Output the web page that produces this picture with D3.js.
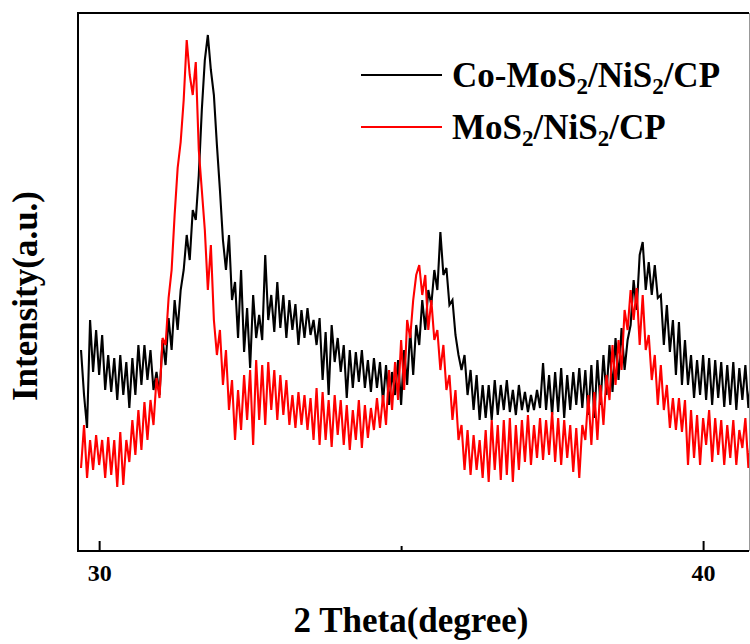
<!DOCTYPE html>
<html>
<head>
<meta charset="utf-8">
<script src="https://cdn.jsdelivr.net/npm/d3@7"></script>
<style>
  body { margin: 0; background: #fff; }
  text { font-family: "Liberation Serif", "Times New Roman", serif; font-weight: bold; }
</style>
</head>
<body>
<div id="chart-area"></div>
<script>
const width = 750;
const height = 644;

// 2-theta positions (degree)
const twoTheta = [
  29.70, 29.75, 29.80, 29.85, 29.90, 29.95, 30.00, 30.05, 30.10, 30.15,
  30.20, 30.25, 30.30, 30.35, 30.40, 30.45, 30.50, 30.55, 30.60, 30.65,
  30.70, 30.75, 30.80, 30.85, 30.90, 30.95, 31.00, 31.05, 31.10, 31.15,
  31.20, 31.25, 31.30, 31.35, 31.40, 31.45, 31.50, 31.55, 31.60, 31.65,
  31.70, 31.75, 31.80, 31.85, 31.90, 31.95, 32.00, 32.05, 32.10, 32.15,
  32.20, 32.25, 32.30, 32.35, 32.40, 32.45, 32.50, 32.55, 32.60, 32.65,
  32.70, 32.75, 32.80, 32.85, 32.90, 32.95, 33.00, 33.05, 33.10, 33.15,
  33.20, 33.25, 33.30, 33.35, 33.40, 33.45, 33.50, 33.55, 33.60, 33.65,
  33.70, 33.75, 33.80, 33.85, 33.90, 33.95, 34.00, 34.05, 34.10, 34.15,
  34.20, 34.25, 34.30, 34.35, 34.40, 34.45, 34.50, 34.55, 34.60, 34.65,
  34.70, 34.75, 34.80, 34.85, 34.90, 34.95, 35.00, 35.05, 35.10, 35.15,
  35.20, 35.25, 35.30, 35.35, 35.40, 35.45, 35.50, 35.55, 35.60, 35.65,
  35.70, 35.75, 35.80, 35.85, 35.90, 35.95, 36.00, 36.05, 36.10, 36.15,
  36.20, 36.25, 36.30, 36.35, 36.40, 36.45, 36.50, 36.55, 36.60, 36.65,
  36.70, 36.75, 36.80, 36.85, 36.90, 36.95, 37.00, 37.05, 37.10, 37.15,
  37.20, 37.25, 37.30, 37.35, 37.40, 37.45, 37.50, 37.55, 37.60, 37.65,
  37.70, 37.75, 37.80, 37.85, 37.90, 37.95, 38.00, 38.05, 38.10, 38.15,
  38.20, 38.25, 38.30, 38.35, 38.40, 38.45, 38.50, 38.55, 38.60, 38.65,
  38.70, 38.75, 38.80, 38.85, 38.90, 38.95, 39.00, 39.05, 39.10, 39.15,
  39.20, 39.25, 39.30, 39.35, 39.40, 39.45, 39.50, 39.55, 39.60, 39.65,
  39.70, 39.75, 39.80, 39.85, 39.90, 39.95, 40.00, 40.05, 40.10, 40.15,
  40.20, 40.25, 40.30, 40.35, 40.40, 40.45, 40.50, 40.55, 40.60, 40.65,
  40.70, 40.75, 40.80
];

// Co-MoS2/NiS2/CP intensity (a.u.)
const coMoS2 = [
  250, 205, 172, 280, 228, 270, 225, 265, 210, 245,
  208, 242, 200, 245, 205, 238, 192, 242, 205, 255,
  215, 255, 220, 250, 210, 228, 205, 260, 235, 282,
  250, 300, 270, 310, 330, 365, 340, 390, 380, 425,
  490, 540, 565, 530, 505, 455, 410, 360, 330, 365,
  300, 318, 262, 330, 248, 292, 232, 305, 262, 285,
  260, 345, 280, 305, 268, 318, 272, 305, 262, 300,
  270, 296, 255, 290, 262, 292, 265, 280, 255, 282,
  220, 268, 205, 275, 238, 262, 228, 255, 202, 250,
  212, 248, 218, 250, 212, 240, 208, 242, 212, 238,
  198, 235, 195, 228, 205, 240, 195, 250, 215, 270,
  225, 275, 255, 300, 270, 310, 295, 330, 310, 368,
  325, 332, 295, 300, 265, 245, 230, 245, 205, 230,
  190, 225, 180, 215, 182, 215, 180, 220, 185, 215,
  190, 220, 188, 210, 185, 215, 190, 208, 188, 205,
  190, 210, 192, 237, 190, 225, 185, 228, 188, 232,
  182, 225, 190, 228, 195, 232, 192, 230, 185, 235,
  182, 240, 195, 245, 205, 255, 208, 262, 220, 272,
  230, 260, 275, 320, 290, 345, 358, 310, 338, 305,
  335, 302, 305, 255, 295, 248, 280, 225, 278, 215,
  260, 215, 245, 202, 240, 205, 245, 200, 242, 195,
  240, 202, 238, 193, 235, 195, 238, 190, 232, 200,
  235, 192, 225
];

// MoS2/NiS2/CP intensity (a.u.)
const moS2 = [
  132, 175, 122, 160, 130, 165, 135, 160, 122, 163,
  125, 160, 113, 168, 115, 160, 138, 180, 145, 190,
  150, 198, 160, 200, 175, 222, 202, 262, 255, 302,
  330, 385, 432, 458, 500, 560, 525, 505, 538, 450,
  410, 370, 310, 355, 280, 245, 270, 215, 250, 190,
  220, 160, 210, 170, 225, 180, 230, 155, 240, 180,
  235, 175, 238, 190, 230, 180, 225, 185, 220, 175,
  205, 172, 208, 175, 205, 170, 202, 160, 212, 155,
  208, 160, 200, 153, 205, 165, 200, 155, 195, 150,
  190, 160, 200, 152, 195, 162, 192, 170, 202, 172,
  205, 175, 230, 190, 238, 200, 260, 210, 280, 262,
  300, 325, 335, 305, 325, 270, 300, 260, 270, 230,
  255, 210, 225, 180, 210, 160, 175, 130, 170, 125,
  165, 130, 160, 122, 170, 118, 180, 130, 175, 120,
  180, 125, 182, 118, 175, 130, 180, 138, 185, 135,
  175, 142, 182, 140, 180, 145, 188, 138, 182, 135,
  180, 142, 175, 128, 172, 122, 175, 160, 205, 155,
  208, 160, 215, 175, 225, 200, 255, 215, 260, 230,
  290, 270, 310, 280, 312, 255, 305, 250, 265, 220,
  245, 195, 235, 190, 215, 172, 202, 170, 202, 168,
  200, 135, 190, 142, 185, 135, 182, 155, 190, 138,
  182, 145, 180, 135, 175, 142, 180, 135, 170, 152,
  182, 132, 170
];

const seriesNames = ["Co-MoS2/NiS2/CP", "MoS2/NiS2/CP"];
const seriesColors = ["#000000", "#ff0000"];
const majorTicks = [30, 40];
const minorTicks = [35];

const plot = { left: 78, right: 749, top: 13, bottom: 551 };

const svg = d3.select("#chart-area")
    .append("svg")
    .attr("width", width)
    .attr("height", height);

const x = d3.scaleLinear()
    .domain([29.65, 40.76])
    .range([plot.left, plot.right]);

const y = d3.scaleLinear()
    .domain([49, 587])
    .range([plot.bottom, plot.top]);

svg.append("clipPath")
    .attr("id", "clip")
    .append("rect")
    .attr("x", plot.left)
    .attr("y", plot.top)
    .attr("width", plot.right - plot.left)
    .attr("height", plot.bottom - plot.top);

const line = d3.line()
    .x((d, i) => x(twoTheta[i]))
    .y(d => y(d));

const lines = svg.append("g").attr("clip-path", "url(#clip)");

[coMoS2, moS2].forEach((data, k) => {
    lines.append("path")
        .datum(data)
        .attr("fill", "none")
        .attr("stroke", seriesColors[k])
        .attr("stroke-width", 2.1)
        .attr("stroke-linejoin", "miter")
        .attr("d", line);
});

// frame
svg.append("line")
    .attr("x1", plot.left).attr("x2", plot.right)
    .attr("y1", plot.top).attr("y2", plot.top)
    .attr("stroke", "#000").attr("stroke-width", 2);
svg.append("line")
    .attr("x1", plot.right + 0.5).attr("x2", plot.right + 0.5)
    .attr("y1", plot.top).attr("y2", plot.bottom)
    .attr("stroke", "#999").attr("stroke-width", 1);
svg.append("line")
    .attr("x1", plot.left).attr("x2", plot.left)
    .attr("y1", plot.top - 1).attr("y2", plot.bottom + 1)
    .attr("stroke", "#000").attr("stroke-width", 2);

// x axis, ticks point inward
const xAxis = svg.append("g")
    .attr("transform", `translate(0, ${plot.bottom})`)
    .call(d3.axisBottom(x)
        .tickValues(majorTicks)
        .tickSizeInner(-10)
        .tickSizeOuter(0)
        .tickPadding(13)
        .tickFormat(d3.format("d")));

xAxis.select(".domain")
    .attr("stroke", "#000")
    .attr("stroke-width", 2)
    .attr("d", `M${plot.left},0H${plot.right}`);
xAxis.selectAll(".tick line").attr("stroke-width", 2);
xAxis.selectAll(".tick text")
    .attr("fill", "#000")
    .style("font-family", "'Liberation Serif', 'Times New Roman', serif")
    .style("font-weight", "bold")
    .style("font-size", "24px");

const xMinor = svg.append("g")
    .attr("transform", `translate(0, ${plot.bottom})`)
    .call(d3.axisBottom(x)
        .tickValues(minorTicks)
        .tickSizeInner(-5)
        .tickSizeOuter(0)
        .tickFormat(""));
xMinor.select(".domain").remove();
xMinor.selectAll(".tick line").attr("stroke-width", 2);

// axis titles
svg.append("text")
    .attr("x", 411)
    .attr("y", 632)
    .attr("text-anchor", "middle")
    .style("font-size", "35px")
    .text("2 Theta(degree)");

svg.append("text")
    .attr("transform", "translate(37, 296) rotate(-90)")
    .attr("text-anchor", "middle")
    .style("font-size", "35px")
    .text("Intensity(a.u.)");

// legend
const legendRows = [
    { y: 75, parts: ["Co-MoS", "2", "/NiS", "2", "/CP"] },
    { y: 127, parts: ["MoS", "2", "/NiS", "2", "/CP"] }
];

legendRows.forEach((row, k) => {
    svg.append("line")
        .attr("x1", 361).attr("x2", 442)
        .attr("y1", row.y).attr("y2", row.y)
        .attr("stroke", seriesColors[k])
        .attr("stroke-width", 2);

    const t = svg.append("text")
        .attr("x", 452)
        .attr("y", row.y + 12)
        .style("font-size", "35px")
        .attr("aria-label", seriesNames[k]);

    row.parts.forEach((p, j) => {
        const isSub = j % 2 === 1;
        t.append("tspan")
            .attr("dy", isSub ? 7 : (j > 0 ? -7 : 0))
            .style("font-size", isSub ? "23px" : "35px")
            .text(p);
    });
});
</script>
</body>
</html>
